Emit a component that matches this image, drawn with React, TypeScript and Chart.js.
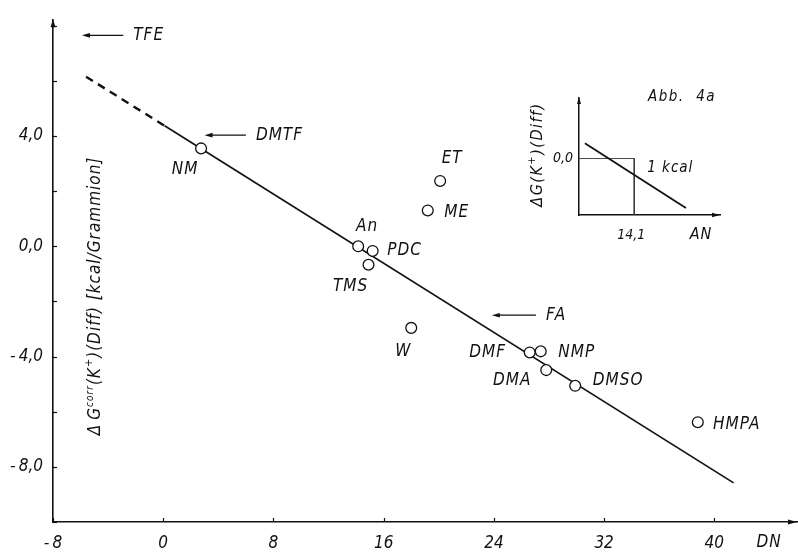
import React, { useEffect, useRef } from 'react';
import { Chart, registerables } from 'chart.js';

Chart.register(...registerables);

// ---------- data (main plot) ----------
const solvents = ['NM', 'An', 'PDC', 'TMS', 'ET', 'ME', 'W', 'DMF', 'NMP', 'DMA', 'DMSO', 'HMPA'];
const donorNumbers = [2.75, 14.15, 15.2, 14.9, 20.1, 19.2, 18.0, 26.6, 27.4, 27.8, 29.9, 38.8];
const deltaGcorr = [3.55, 0.0, -0.17, -0.67, 2.37, 1.3, -2.96, -3.85, -3.81, -4.49, -5.06, -6.38];

// regression line: first segment dashed (extrapolated), rest solid
const regressionX = [-5.6, 0.1, 41.4];
const regressionY = [6.15, 4.37, -8.58];

// solvents outside the DN range, marked with arrows
const arrowNames = ['TFE', 'DMTF', 'FA'];
const arrowLevels = [7.65, 4.03, -2.5];
const arrowTipDN = [-5.9, 3.0, 23.85];
const arrowTailDN = [-2.9, 6.0, 27.05];

const xTickValues = [-8, 0, 8, 16, 24, 32, 40];
const yLabelValues = [-8, -4, 0, 4];
const xAxisName = 'DN';

// ---------- data (inset "Abb. 4a") ----------
const insetLineX = [1.5, 27.3];
const insetLineY = [0.94, -3.06];
const insetRefAN = 14.1;
const insetRefG = 0.0;
const insetTitle = 'Abb.  4a';
const insetNote = '1 kcal';
const insetXName = 'AN';

// ---------- styling / layout (not data) ----------
const INK = '#111111';
const FAMILY = '"DejaVu Sans Condensed", "DejaVu Sans", sans-serif';
// pixel offsets of the solvent labels relative to their circles
const labelOffsets: [number, number][] = [
  [-16, 21], [9, -20], [32, 0], [-18, 22], [12, -22], [29, 2],
  [-8, 24], [-42, 0], [36, 1], [-34, 10], [43, -5], [39, 2],
];

const fmtNum = (v: number, digits: number) => {
  const s = Math.abs(v).toFixed(digits).replace('.', ',');
  return v < 0 ? '-\u2009' + s : s;
};

function italic(size: number) {
  return `italic ${size}px ${FAMILY}`;
}

function arrowHead(ctx: CanvasRenderingContext2D, tx: number, ty: number, dirX: number, dirY: number, len: number, half: number) {
  const bx = tx - dirX * len;
  const by = ty - dirY * len;
  const nx = -dirY;
  const ny = dirX;
  ctx.beginPath();
  ctx.moveTo(tx, ty);
  ctx.lineTo(bx + nx * half, by + ny * half);
  ctx.lineTo(bx - nx * half, by - ny * half);
  ctx.closePath();
  ctx.fill();
}

type Seg = { t: string; size: number; dy: number };

function drawRich(ctx: CanvasRenderingContext2D, segs: Seg[], cx: number, cy: number, rotate: boolean, spacing: number) {
  ctx.save();
  ctx.translate(cx, cy);
  if (rotate) ctx.rotate(-Math.PI / 2);
  ctx.textBaseline = 'middle';
  ctx.textAlign = 'left';
  (ctx as any).letterSpacing = spacing + 'px';
  let total = 0;
  const widths = segs.map((s) => {
    ctx.font = italic(s.size);
    const w = ctx.measureText(s.t).width;
    total += w;
    return w;
  });
  let x = -total / 2;
  segs.forEach((s, i) => {
    ctx.font = italic(s.size);
    ctx.fillText(s.t, x, s.dy);
    x += widths[i];
  });
  ctx.restore();
}

const mainDecor = {
  id: 'mainDecor',
  afterDraw(chart: any) {
    const { ctx, chartArea, scales } = chart;
    const xs = scales.x;
    const ys = scales.y;
    ctx.save();
    ctx.strokeStyle = INK;
    ctx.fillStyle = INK;
    ctx.lineWidth = 1.2;

    // inward tick marks
    ys.ticks.forEach((t: any) => {
      const py = Math.round(ys.getPixelForValue(t.value)) + 0.5;
      ctx.beginPath();
      ctx.moveTo(chartArea.left, py);
      ctx.lineTo(chartArea.left + 4, py);
      ctx.stroke();
    });
    xs.ticks.forEach((t: any) => {
      const px = Math.round(xs.getPixelForValue(t.value)) + 0.5;
      ctx.beginPath();
      ctx.moveTo(px, chartArea.bottom);
      ctx.lineTo(px, chartArea.bottom - 4);
      ctx.stroke();
    });

    // axis arrow heads
    arrowHead(ctx, chartArea.left, chartArea.top - 1, 0, -1, 8, 2.5);
    arrowHead(ctx, chartArea.right, chartArea.bottom, 1, 0, 9, 2.5);

    (ctx as any).letterSpacing = '1px';
    // axis name DN
    ctx.font = italic(17);
    ctx.textAlign = 'center';
    ctx.textBaseline = 'middle';
    ctx.fillText(xAxisName, chartArea.right - 28, chartArea.bottom + 21);

    // solvent labels
    const meta = chart.getDatasetMeta(0);
    meta.data.forEach((pt: any, i: number) => {
      const [dx, dy] = labelOffsets[i];
      ctx.fillText(solvents[i], pt.x + dx, pt.y + dy);
    });

    // arrows for TFE, DMTF, FA
    ctx.lineWidth = 1.3;
    arrowNames.forEach((name, i) => {
      const py = ys.getPixelForValue(arrowLevels[i]);
      const x1 = xs.getPixelForValue(arrowTailDN[i]);
      const x0 = xs.getPixelForValue(arrowTipDN[i]);
      ctx.beginPath();
      ctx.moveTo(x1, py);
      ctx.lineTo(x0 + 4, py);
      ctx.stroke();
      arrowHead(ctx, x0, py, -1, 0, 8, 2.3);
      ctx.textAlign = 'left';
      ctx.fillText(name, x1 + 10, py);
    });
    (ctx as any).letterSpacing = '0px';

    // y axis title (rotated, with superscripts)
    drawRich(
      ctx,
      [
        { t: '\u0394\u2009G', size: 17, dy: 0 },
        { t: 'corr', size: 10, dy: -6 },
        { t: '(K', size: 17, dy: 0 },
        { t: '+', size: 11, dy: -7 },
        { t: ')(Diff) [kcal/Grammion]', size: 17, dy: 0 },
      ],
      96,
      296,
      true,
      1
    );
    ctx.restore();
  },
};

const insetDecor = {
  id: 'insetDecor',
  afterDraw(chart: any) {
    const { ctx, chartArea, scales } = chart;
    const xs = scales.x;
    const ys = scales.y;
    ctx.save();
    ctx.fillStyle = INK;
    arrowHead(ctx, chartArea.left, chartArea.top - 1, 0, -1, 7, 2);
    arrowHead(ctx, chartArea.right, chartArea.bottom, 1, 0, 8, 2.2);

    ctx.textBaseline = 'middle';
    (ctx as any).letterSpacing = '0px';

    // tick labels
    ctx.font = italic(14);
    ctx.textAlign = 'right';
    ctx.fillText(fmtNum(insetRefG, 1), chartArea.left - 6, ys.getPixelForValue(insetRefG));
    ctx.textAlign = 'center';
    ctx.fillText(fmtNum(insetRefAN, 1), xs.getPixelForValue(insetRefAN) - 3, chartArea.bottom + 20);

    (ctx as any).letterSpacing = '1px';
    ctx.font = italic(16);
    ctx.fillText(insetXName, chartArea.right - 19, chartArea.bottom + 20);

    ctx.textAlign = 'left';
    ctx.font = italic(15);
    ctx.fillText(insetNote, xs.getPixelForValue(insetRefAN) + 13, ys.getPixelForValue(-0.62));
    (ctx as any).letterSpacing = '1.5px';
    ctx.fillText(insetTitle, chartArea.left + 69, chartArea.top - 1);

    drawRich(
      ctx,
      [
        { t: '\u0394G(K', size: 16, dy: 0 },
        { t: '+', size: 11, dy: -6 },
        { t: ')(Diff)', size: 16, dy: 0 },
      ],
      chartArea.left - 41,
      (chartArea.top + chartArea.bottom) / 2 - 2,
      true,
      1.5
    );
    ctx.restore();
  },
};

export default function App() {
  const mainRef = useRef<HTMLCanvasElement>(null);
  const insetRef = useRef<HTMLCanvasElement>(null);

  useEffect(() => {
    if (!mainRef.current || !insetRef.current) return;

    const points = donorNumbers.map((x, i) => ({ x, y: deltaGcorr[i] }));
    const regression = regressionX.map((x, i) => ({ x, y: regressionY[i] }));

    const main = new Chart(mainRef.current, {
      type: 'scatter',
      data: {
        datasets: [
          {
            label: 'Solvents',
            data: points,
            pointStyle: 'circle',
            pointRadius: 5.4,
            pointBorderWidth: 1.3,
            pointBorderColor: INK,
            pointBackgroundColor: '#ffffff',
            showLine: false,
          },
          {
            label: 'Regression',
            data: regression,
            showLine: true,
            pointRadius: 0,
            borderColor: INK,
            borderWidth: 1.7,
            fill: false,
            segment: {
              borderDash: (c: any) => (c.p0DataIndex === 0 ? [8, 6] : undefined),
              borderWidth: (c: any) => (c.p0DataIndex === 0 ? 2.4 : 1.7),
            },
          } as any,
        ],
      },
      options: {
        animation: false,
        responsive: false,
        layout: { autoPadding: false, padding: { top: 13, right: 1, left: 0, bottom: 0 } },
        plugins: { legend: { display: false }, tooltip: { enabled: false } },
        scales: {
          x: {
            type: 'linear',
            min: -8,
            max: 46,
            grid: { display: false, drawTicks: false },
            border: { display: true, color: INK, width: 1.6 },
            ticks: {
              stepSize: 8,
              includeBounds: false,
              autoSkip: false,
              maxRotation: 0,
              padding: 11,
              color: INK,
              font: { family: FAMILY, size: 17, style: 'italic' },
              callback: (v: any) => (xTickValues.includes(Number(v)) ? fmtNum(Number(v), 0) : ''),
            },
            afterFit: (s: any) => {
              s.height = 31;
            },
          },
          y: {
            type: 'linear',
            min: -10,
            max: 8.2,
            grid: { display: false, drawTicks: false },
            border: { display: true, color: INK, width: 1.6 },
            ticks: {
              stepSize: 2,
              includeBounds: false,
              autoSkip: false,
              padding: 10,
              color: INK,
              font: { family: FAMILY, size: 17, style: 'italic' },
              callback: (v: any) => (yLabelValues.includes(Number(v)) ? fmtNum(Number(v), 1) : ''),
            },
            afterFit: (s: any) => {
              s.width = 53;
            },
          },
        },
      } as any,
      plugins: [mainDecor],
    });

    const inset = new Chart(insetRef.current, {
      type: 'scatter',
      data: {
        datasets: [
          {
            label: 'inset line',
            data: insetLineX.map((x, i) => ({ x, y: insetLineY[i] })),
            showLine: true,
            pointRadius: 0,
            borderColor: INK,
            borderWidth: 1.8,
          },
          {
            label: 'ref h',
            data: [
              { x: 0, y: insetRefG },
              { x: insetRefAN, y: insetRefG },
            ],
            showLine: true,
            pointRadius: 0,
            borderColor: '#333333',
            borderWidth: 0.9,
          },
          {
            label: 'ref v',
            data: [
              { x: insetRefAN, y: insetRefG },
              { x: insetRefAN, y: -3.5 },
            ],
            showLine: true,
            pointRadius: 0,
            borderColor: '#333333',
            borderWidth: 0.9,
          },
        ],
      },
      options: {
        animation: false,
        responsive: false,
        layout: { autoPadding: false, padding: { top: 18, right: 20, left: 79, bottom: 35 } },
        plugins: { legend: { display: false }, tooltip: { enabled: false } },
        scales: {
          x: {
            type: 'linear',
            min: 0,
            max: 36,
            grid: { display: false, drawTicks: false },
            border: { display: true, color: INK, width: 1.5 },
            ticks: { display: false },
            afterFit: (s: any) => {
              s.height = 0;
            },
          },
          y: {
            type: 'linear',
            min: -3.5,
            max: 3.75,
            grid: { display: false, drawTicks: false },
            border: { display: true, color: INK, width: 1.5 },
            ticks: { display: false },
            afterFit: (s: any) => {
              s.width = 0;
            },
          },
        },
      } as any,
      plugins: [insetDecor],
    });

    return () => {
      main.destroy();
      inset.destroy();
    };
  }, []);

  return (
    <div style={{ position: 'absolute', left: 0, top: 0, width: 798, height: 553, background: '#ffffff', overflow: 'hidden' }}>
      <canvas ref={mainRef} width={798} height={553} style={{ position: 'absolute', left: 0, top: 0 }} />
      <canvas ref={insetRef} width={240} height={170} style={{ position: 'absolute', left: 500, top: 80 }} />
    </div>
  );
}
